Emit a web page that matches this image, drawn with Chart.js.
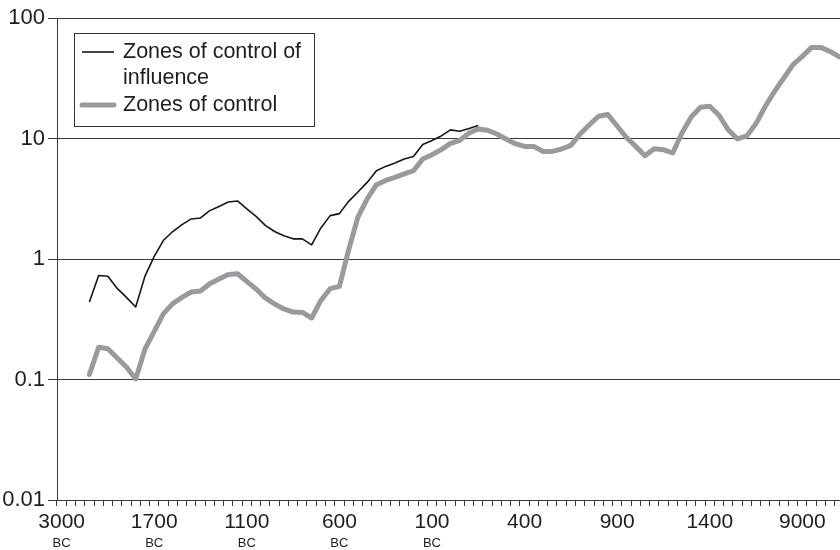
<!DOCTYPE html>
<html>
<head>
<meta charset="utf-8">
<script src="https://cdn.jsdelivr.net/npm/chart.js@4/dist/chart.umd.min.js"></script>
<style>
  html, body { margin: 0; padding: 0; background: #fff; overflow: hidden; }
  #wrap { width: 840px; height: 550px; overflow: hidden; position: relative; }
  canvas { display: block; }
</style>
</head>
<body>
<div id="wrap"><canvas id="chart" width="844" height="550"></canvas></div>
<script>
// Sample periods along the time axis (85 steps); only every 10th carries a label.
const categories = Array.from({ length: 85 }, (_, i) => i);

// Labels printed under every 10th period, with the era line below them.
const periodLabels = ['3000', '1700', '1100', '600', '100', '400', '900', '1400', '9000'];
const eraLabels    = ['BC', 'BC', 'BC', 'BC', 'BC', '', '', '', ''];

// Log-axis ticks.
const yTickValues = [0.01, 0.1, 1, 10, 100];
const yTickLabels = ['0.01', '0.1', '1', '10', '100'];

// Series names (as wrapped in the key).
const influenceName = ['Zones of control of', 'influence'];
const controlName   = ['Zones of control'];

// Zones of control of influence (periods 3 to 45).
const influence = [
  null, null, null,
  0.44, 0.73, 0.72, 0.57, 0.48, 0.40, 0.72, 1.05, 1.43, 1.69,
  1.93, 2.15, 2.19, 2.52, 2.73, 2.97, 3.03, 2.61, 2.26, 1.90,
  1.69, 1.56, 1.47, 1.47, 1.31, 1.81, 2.29, 2.38, 3.01, 3.60,
  4.32, 5.41, 5.87, 6.26, 6.76, 7.10, 8.93, 9.64, 10.5, 11.8,
  11.5, 12.1, 12.8
];

// Zones of control (periods 3 to 84).
const control = [
  null, null, null,
  0.110, 0.185, 0.180, 0.151, 0.127, 0.101, 0.179, 0.251, 0.352, 0.426,
  0.480, 0.532, 0.542, 0.624, 0.683, 0.745, 0.755, 0.652, 0.564, 0.475,
  0.423, 0.385, 0.363, 0.360, 0.324, 0.453, 0.567, 0.593, 1.19, 2.23,
  3.15, 4.14, 4.49, 4.75, 5.08, 5.40, 6.76, 7.34, 8.08, 9.10,
  9.64, 11.1, 12.0, 11.7, 10.9, 9.91, 9.06, 8.60, 8.60, 7.81,
  7.81, 8.18, 8.77, 10.9, 13.0, 15.3, 15.8, 12.7, 10.2, 8.60,
  7.20, 8.23, 8.07, 7.58, 11.1, 15.1, 18.2, 18.5, 15.6, 11.8,
  9.91, 10.5, 13.3, 18.5, 24.6, 31.8, 41.0, 48.0, 57.0, 57.0,
  52.8, 47.5
];

const FONT = '"Liberation Sans", Arial, Helvetica, sans-serif';
const INK = '#1e1e1e';
const GRID = '#3a3a3a';
const BLACK_LINE = '#161616';
const GREY_LINE = '#9a9a9e';

// Second, smaller line ("BC") under the period labels.
const eraPlugin = {
  id: 'eraLine',
  afterDraw(chart) {
    const xs = chart.scales.x;
    const ctx = chart.ctx;
    ctx.save();
    ctx.font = '13px ' + FONT;
    ctx.fillStyle = INK;
    ctx.textAlign = 'center';
    ctx.textBaseline = 'middle';
    eraLabels.forEach((t, k) => {
      if (!t) return;
      ctx.fillText(t, xs.getPixelForValue(k * 10), chart.chartArea.bottom + 43);
    });
    ctx.restore();
  }
};

// Boxed key in the upper-left corner of the plot.
const keyPlugin = {
  id: 'boxKey',
  afterDatasetsDraw(chart) {
    const ctx = chart.ctx;
    const a = chart.chartArea;
    const x = a.left + 17, y = a.top + 15, w = 240, h = 93;
    const lineH = 26.5;
    ctx.save();
    ctx.fillStyle = '#fff';
    ctx.fillRect(x, y, w, h);
    ctx.strokeStyle = '#333';
    ctx.lineWidth = 1;
    ctx.strokeRect(Math.round(x) + 0.5, Math.round(y) + 0.5, w, h);

    ctx.font = '21.5px ' + FONT;
    ctx.fillStyle = INK;
    ctx.textAlign = 'left';
    ctx.textBaseline = 'middle';
    const entries = [
      { lines: influenceName, ds: chart.data.datasets[0] },
      { lines: controlName, ds: chart.data.datasets[1] }
    ];
    let row = 0;
    entries.forEach(e => {
      const cy = y + 19 + row * lineH;
      ctx.strokeStyle = e.ds.borderColor;
      ctx.lineWidth = e.ds.borderWidth;
      ctx.lineCap = e.ds.borderWidth > 2 ? 'round' : 'butt';
      ctx.beginPath();
      ctx.moveTo(x + 8, cy);
      ctx.lineTo(x + 40, cy);
      ctx.stroke();
      e.lines.forEach(t => {
        ctx.fillText(t, x + 49, y + 19 + row * lineH);
        row++;
      });
    });
    ctx.restore();
  }
};

new Chart(document.getElementById('chart'), {
  type: 'line',
  data: {
    labels: categories,
    datasets: [
      {
        label: influenceName.join(' '),
        data: influence,
        borderColor: BLACK_LINE,
        borderWidth: 1.6,
        pointRadius: 0,
        tension: 0,
        borderJoinStyle: 'round',
        fill: false
      },
      {
        label: controlName.join(' '),
        data: control,
        borderColor: GREY_LINE,
        borderWidth: 5,
        pointRadius: 0,
        tension: 0,
        borderJoinStyle: 'round',
        borderCapStyle: 'round',
        fill: false
      }
    ]
  },
  options: {
    responsive: false,
    animation: false,
    devicePixelRatio: 1,
    layout: { padding: { top: 18, left: 0, right: 0, bottom: 0 } },
    plugins: {
      legend: { display: false },
      tooltip: { enabled: false }
    },
    scales: {
      x: {
        type: 'category',
        offset: true,
        grid: {
          offset: true,
          drawOnChartArea: false,
          drawTicks: true,
          tickLength: 6,
          color: GRID,
          lineWidth: 1
        },
        border: { color: GRID, width: 1 },
        ticks: {
          autoSkip: false,
          maxRotation: 0,
          minRotation: 0,
          padding: 4,
          color: INK,
          font: { family: FONT, size: 21 },
          callback: (v, i) => (i % 10 === 0 && periodLabels[i / 10] !== undefined) ? periodLabels[i / 10] : ''
        },
        afterFit: s => { s.height = 50; }
      },
      y: {
        type: 'logarithmic',
        min: 0.01,
        max: 100,
        grid: { color: GRID, lineWidth: 1, tickLength: 9 },
        border: { color: GRID, width: 1 },
        ticks: {
          color: INK,
          padding: 3,
          font: { family: FONT, size: 22 },
          callback: v => {
            const k = yTickValues.findIndex(t => Math.abs(t - v) < 1e-9);
            return k >= 0 ? yTickLabels[k] : null;
          }
        },
        afterBuildTicks: s => { s.ticks = yTickValues.map(v => ({ value: v })); },
        afterFit: s => { s.width = 57; }
      }
    }
  },
  plugins: [eraPlugin, keyPlugin]
});
</script>
</body>
</html>
